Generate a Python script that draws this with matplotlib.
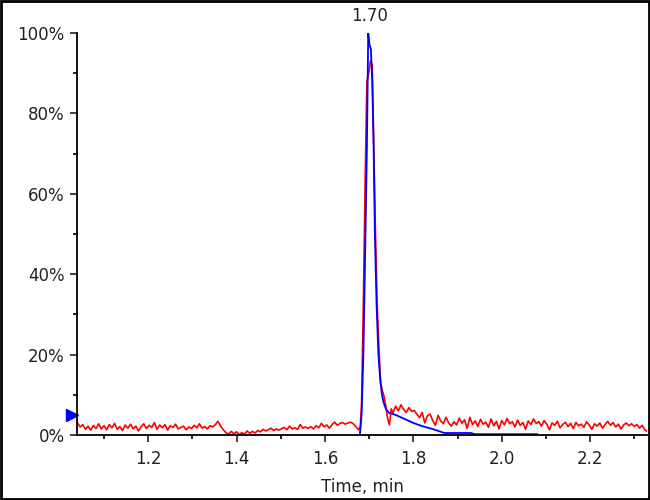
import numpy as np
import matplotlib
matplotlib.use('Agg')
import matplotlib.pyplot as plt
from matplotlib.ticker import MultipleLocator, FuncFormatter
import matplotlib.transforms as mtransforms

# Traço vermelho: linha de base antes do pico (passo de 0.006 min a partir de 1.040)
red_pre_start = 1.040
red_pre = [3.0, 2.0, 2.6, 1.4, 2.2, 1.2, 2.4, 1.6, 2.8, 1.5, 2.3,
           1.3, 2.6, 1.8, 2.9, 1.4, 2.1, 1.1, 2.5, 1.7, 2.7, 1.5,
           2.2, 1.0, 2.0, 2.8, 1.6, 2.4, 1.9, 3.1, 1.4, 2.5, 1.8,
           2.6, 1.2, 2.3, 1.9, 2.7, 1.5, 1.9, 2.2, 1.3, 2.0, 1.6,
           2.4, 1.8, 2.8, 1.7, 2.1, 1.5, 2.3, 2.0, 2.6, 3.4, 2.2,
           1.3, 0.6, 0.2, 0.9, 0.3, 0.8, 0.1, 0.6, 0.2, 1.0, 0.4,
           0.9, 0.5, 1.1, 0.8, 1.4, 1.0, 1.3, 1.7, 1.1, 1.5, 1.2,
           1.6, 1.9, 1.3, 2.2, 1.5, 1.8, 1.4, 2.6, 1.7, 2.0, 1.6,
           2.1, 1.5, 2.3, 1.8, 2.9, 2.0, 2.5, 1.7, 2.6, 3.2, 2.4,
           2.9, 3.1, 2.7, 3.0, 3.2, 2.8, 2.1, 1.3]

# Traço vermelho: região do pico
red_peak_t = [1.680, 1.683, 1.687, 1.691, 1.695, 1.699, 1.703, 1.707, 1.710, 1.714,
              1.718, 1.722, 1.726, 1.730, 1.734, 1.738, 1.742, 1.746, 1.750, 1.754]
red_peak = [2.0, 8, 33, 63, 88, 90, 93, 92, 75, 52,
            33, 22, 13, 11, 9.5, 7, 4, 2.5, 6.5, 5.5]

# Traço vermelho: cauda depois do pico (passo de 0.006 min a partir de 1.760)
red_post_start = 1.760
red_post = [7.2, 6.0, 7.5, 6.4, 5.6, 6.8, 5.9, 6.1, 5.2, 4.3, 5.6,
            3.0, 4.8, 5.2, 3.6, 2.4, 4.9, 3.5, 2.8, 4.4, 3.0, 2.2,
            3.3, 2.5, 4.2, 2.9, 3.8, 1.6, 4.4, 2.6, 3.5, 2.1, 3.9,
            2.7, 3.2, 1.9, 4.0, 2.3, 3.4, 1.5, 3.6, 2.5, 4.1, 2.8,
            3.3, 2.0, 3.7, 2.4, 3.1, 1.4, 3.5, 2.6, 4.0, 2.9, 3.3,
            2.2, 3.6, 2.7, 1.3, 3.0, 2.4, 3.4, 1.8, 2.6, 3.2, 2.1,
            2.9, 1.6, 3.1, 2.3, 2.7, 1.9, 3.3, 2.5, 1.4, 2.8, 2.2,
            3.0, 1.7, 2.6, 3.4, 2.4, 3.1, 2.0, 2.7, 1.5, 2.5, 3.0,
            2.3, 2.8, 2.1, 2.6, 1.7, 2.4, 1.3, 0.8]
step = 0.006

# Traço azul
blue_t = [1.679, 1.683, 1.687, 1.691, 1.695, 1.698, 1.701, 1.704, 1.707, 1.710,
          1.713, 1.717, 1.721, 1.725, 1.729, 1.733, 1.738, 1.745, 1.76, 1.78,
          1.80, 1.82, 1.84, 1.86, 1.87, 1.93, 1.94, 2.08]
blue = [0, 5, 20, 45, 72, 100, 97, 96, 88, 73,
        50, 32, 20, 14, 10, 8, 6.5, 5.5, 5, 4,
        3, 2.2, 1.6, 0.9, 0.5, 0.5, 0.2, 0.2]

peak_label = '1.70'
peak_time = 1.70

# Montar os tempos do traço vermelho
t_pre = red_pre_start + step * np.arange(len(red_pre))
t_post = red_post_start + step * np.arange(len(red_post))
red_t = np.concatenate([t_pre, red_peak_t, t_post])
red = np.concatenate([red_pre, red_peak, red_post])

fig = plt.figure(figsize=(6.5, 5), dpi=100)
ax = fig.add_axes([0.1185, 0.13, 0.877, 0.804])

ax.plot(red_t, red, color='#ff0000', lw=1.2)
ax.plot(blue_t, blue, color='#0000ff', lw=1.3)

ax.set_xlim(1.039, 2.329)
ax.set_ylim(0, 100)

ax.spines['top'].set_visible(False)
ax.spines['right'].set_visible(False)
ax.spines['left'].set_linewidth(1.3)
ax.spines['bottom'].set_linewidth(1.3)

ax.xaxis.set_major_locator(MultipleLocator(0.2))
ax.xaxis.set_minor_locator(MultipleLocator(0.1))
ax.yaxis.set_major_locator(MultipleLocator(20))
ax.yaxis.set_minor_locator(MultipleLocator(10))
ax.xaxis.set_major_formatter(FuncFormatter(lambda v, p: f'{v:.1f}'))
ax.yaxis.set_major_formatter(FuncFormatter(lambda v, p: f'{v:.0f}%'))
ax.tick_params(which='major', length=5, width=1.2, labelsize=12, colors='#222222', pad=4)
ax.tick_params(which='minor', length=3, width=1.2)
ax.tick_params(axis='x', pad=6)

ax.set_xlabel('Time, min', fontsize=12, color='#222222', labelpad=7)

ax.annotate(peak_label, xy=(peak_time, 100), xytext=(0, 6), textcoords='offset points',
            ha='center', va='bottom', fontsize=12, color='#222222', annotation_clip=False)

# marcador triangular azul à esquerda do eixo
trans = mtransforms.blended_transform_factory(ax.transAxes, ax.transData)
ax.plot([-0.009], [5], marker='>', color='#0000ff', markersize=9, transform=trans, clip_on=False)

# moldura preta em volta da figura
fig.patches.append(plt.Rectangle((0.002, 0.002), 0.996, 0.996, transform=fig.transFigure,
                                 fill=False, edgecolor='black', lw=2))

plt.savefig('out.png', dpi=100)
